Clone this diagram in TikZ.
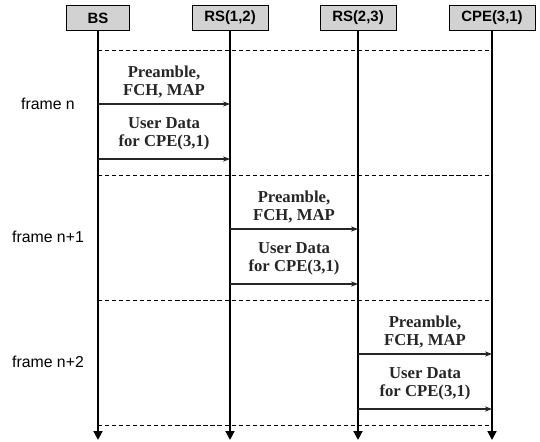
\documentclass[tikz,border=0pt]{standalone}
\usepackage{fontspec}
\setmainfont{Liberation Serif}
\setsansfont{Liberation Sans}
\usetikzlibrary{arrows.meta}

\begin{document}
\begin{tikzpicture}[x=0.02cm,y=-0.02cm,
    header/.style={draw, fill=gray!35, font=\sffamily\bfseries\fontsize{8.5}{9}\selectfont,
        minimum width=1.26cm, minimum height=0.5cm, inner xsep=7pt},
    lifeline/.style={line width=1.1pt, -{Triangle[length=5pt,width=5pt]}},
    separator/.style={line width=0.5pt, dash pattern=on 2.4pt off 1.6pt},
    message/.style={line width=0.7pt, black!85, -{Stealth[length=4pt,width=3pt]}},
    msgtext/.style={font=\bfseries\fontsize{9.5}{10}\selectfont, align=center, inner sep=1pt},
    framelabel/.style={font=\sffamily\fontsize{9}{10}\selectfont}]
                \newcommand{\framestep}{125}
                \newcommand{\lifeend}{440}

                \useasboundingbox (0,0) rectangle (540,442);

                % Draw header boxes
                \foreach \name/\xpos/\txt in {bs/98/BS, rsa/230/{RS(1,2)}, rsb/358/{RS(2,3)}, cpe/492/{CPE(3,1)}} {
                    \node[header] (\name) at (\xpos,18) {\txt};
                    \coordinate (\name end) at (\xpos,\lifeend);
                }

                % Draw lifelines
                \foreach \name in {bs,rsa,rsb,cpe} {
                    \draw[lifeline] (\name) -- (\name end);
                }

                % Draw frame separators
                \foreach \k in {0,...,3} {
                    \coordinate (sep\k) at (0,50+\k*\framestep);
                    \draw[separator] (bs |- sep\k) -- (cpe |- sep\k);
                }

                % Draw messages
                \foreach \src/\dst/\lbl/\ly [count=\k from 0] in {bs/rsa/n/104, rsa/rsb/n+1/237, rsb/cpe/n+2/362} {
                    \coordinate (msg\k) at (0,104+\k*\framestep);
                    \coordinate (dat\k) at (0,159+\k*\framestep);
                    \draw[message] (\src |- msg\k) -- node[msgtext, above=2pt] (pre\k) {Preamble,\\FCH, MAP} (\dst |- msg\k);
                    \draw[message] (\src |- dat\k) -- node[msgtext, above=4pt] (usr\k) {User Data\\for CPE(3,1)} (\dst |- dat\k);
                    \node[framelabel] (frm\k) at (48,\ly) {frame \lbl};
                }
            \end{tikzpicture}
\end{document}
